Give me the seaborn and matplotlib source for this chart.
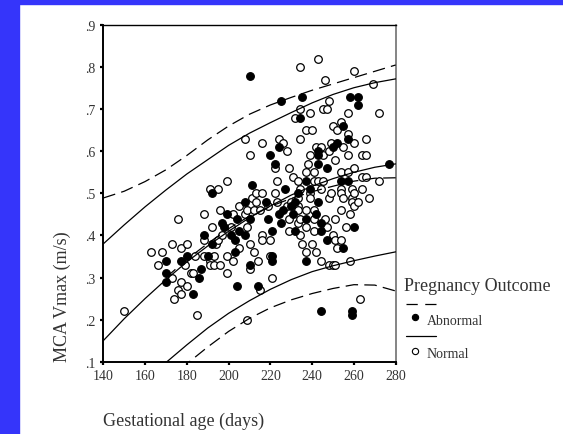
import numpy as np
import pandas as pd
import matplotlib
matplotlib.use("Agg")
import matplotlib.pyplot as plt
import seaborn as sns
from matplotlib.lines import Line2D
from matplotlib.patches import Rectangle

# points (gestational age in days, MCA Vmax in m/s)
abnormal_days = [170, 170, 170, 177, 180, 183, 186, 187, 188, 190,
                 192, 192, 197, 198, 199, 201, 203, 203, 204, 204,
                 205, 208, 208, 210, 210, 210, 211, 214, 218, 219,
                 220, 221, 221, 221, 222, 224, 224, 225, 225, 226,
                 227, 230, 231, 232, 232, 233, 234, 235, 237, 237,
                 237, 239, 242, 243, 243, 243, 243, 244, 244, 244,
                 247, 247, 250, 252, 254, 255, 255, 257, 257, 258,
                 259, 259, 260, 262, 262, 277]
abnormal_vmax = [0.34, 0.31, 0.29, 0.34, 0.35, 0.26, 0.30, 0.32, 0.40, 0.35,
                 0.38, 0.50, 0.43, 0.42, 0.45, 0.40, 0.39, 0.36, 0.28, 0.44,
                 0.41, 0.40, 0.48, 0.44, 0.33, 0.78, 0.52, 0.28, 0.48, 0.44,
                 0.59, 0.41, 0.35, 0.34, 0.57, 0.61, 0.45, 0.72, 0.43, 0.46,
                 0.51, 0.47, 0.45, 0.41, 0.48, 0.50, 0.68, 0.73, 0.53, 0.44,
                 0.34, 0.51, 0.45, 0.60, 0.59, 0.57, 0.48, 0.43, 0.41, 0.22,
                 0.56, 0.39, 0.61, 0.62, 0.53, 0.66, 0.37, 0.53, 0.63, 0.73,
                 0.22, 0.21, 0.42, 0.73, 0.71, 0.57]

normal_days = [150, 163, 166, 168, 173, 173, 174, 176, 176, 177,
               177, 177, 179, 180, 180, 182, 183, 184, 185, 188,
               188, 188, 191, 191, 191, 192, 193, 193, 194, 195,
               195, 196, 196, 197, 199, 199, 199, 201, 202, 202,
               205, 205, 208, 208, 209, 209, 209, 210, 210, 210,
               211, 212, 212, 213, 213, 214, 215, 215, 216, 216,
               216, 216, 219, 220, 220, 221, 222, 222, 223, 223,
               224, 226, 228, 228, 229, 229, 229, 230, 231, 232,
               233, 233, 233, 233, 233, 234, 234, 234, 234, 234,
               234, 235, 237, 237, 237, 237, 237, 238, 239, 239,
               239, 239, 240, 240, 241, 241, 241, 241, 241, 242,
               242, 243, 243, 244, 244, 244, 245, 245, 245, 246,
               246, 247, 247, 248, 248, 248, 248, 249, 249, 250,
               250, 250, 251, 251, 251, 251, 252, 252, 254, 254,
               254, 254, 254, 254, 255, 255, 256, 257, 257, 257,
               257, 258, 258, 259, 259, 259, 260, 260, 260, 260,
               260, 262, 263, 264, 264, 264, 266, 266, 266, 267,
               269, 272, 272]
normal_vmax = [0.22, 0.36, 0.33, 0.36, 0.38, 0.30, 0.25, 0.44, 0.27, 0.37,
               0.29, 0.26, 0.33, 0.38, 0.28, 0.31, 0.31, 0.35, 0.21, 0.45,
               0.39, 0.35, 0.51, 0.34, 0.33, 0.42, 0.35, 0.33, 0.38, 0.51,
               0.39, 0.46, 0.33, 0.40, 0.53, 0.35, 0.31, 0.42, 0.45, 0.34,
               0.47, 0.37, 0.63, 0.45, 0.46, 0.42, 0.20, 0.59, 0.38, 0.32,
               0.49, 0.46, 0.36, 0.50, 0.48, 0.34, 0.46, 0.27, 0.62, 0.50,
               0.40, 0.39, 0.47, 0.39, 0.35, 0.30, 0.56, 0.50, 0.53, 0.48,
               0.63, 0.62, 0.60, 0.47, 0.56, 0.44, 0.41, 0.48, 0.54, 0.68,
               0.53, 0.49, 0.47, 0.46, 0.43, 0.80, 0.70, 0.63, 0.51, 0.44,
               0.40, 0.38, 0.65, 0.55, 0.46, 0.42, 0.36, 0.57, 0.69, 0.59,
               0.50, 0.49, 0.65, 0.38, 0.55, 0.53, 0.46, 0.44, 0.41, 0.61,
               0.36, 0.82, 0.53, 0.61, 0.51, 0.34, 0.70, 0.59, 0.53, 0.77,
               0.44, 0.70, 0.42, 0.72, 0.60, 0.49, 0.33, 0.62, 0.50, 0.66,
               0.40, 0.33, 0.58, 0.44, 0.39, 0.33, 0.65, 0.37, 0.67, 0.55,
               0.51, 0.50, 0.46, 0.39, 0.61, 0.49, 0.42, 0.69, 0.64, 0.59,
               0.55, 0.45, 0.34, 0.51, 0.49, 0.48, 0.79, 0.62, 0.56, 0.50,
               0.47, 0.48, 0.25, 0.59, 0.54, 0.51, 0.63, 0.59, 0.54, 0.49,
               0.76, 0.69, 0.53]

# fitted curves and prediction limits, read every 10 days
curve_days = [140, 150, 160, 170, 180, 190, 200, 210, 220, 230, 240, 250, 260, 270, 280]
normal_fit = [0.150, 0.202, 0.250, 0.295, 0.337, 0.375, 0.410, 0.442, 0.470, 0.496, 0.517, 0.535, 0.550, 0.562, 0.570]
normal_upper = [0.380, 0.425, 0.468, 0.508, 0.546, 0.580, 0.614, 0.643, 0.668, 0.692, 0.715, 0.735, 0.751, 0.763, 0.772]
normal_lower = [np.nan, np.nan, 0.050, 0.098, 0.140, 0.180, 0.215, 0.245, 0.272, 0.295, 0.314, 0.328, 0.340, 0.351, 0.361]
abnormal_fit = [np.nan, np.nan, np.nan, 0.300, 0.343, 0.381, 0.416, 0.446, 0.469, 0.488, 0.504, 0.517, 0.529, 0.536, 0.537]
abnormal_upper = [0.489, 0.505, 0.528, 0.556, 0.590, 0.627, 0.660, 0.688, 0.710, 0.728, 0.745, 0.760, 0.775, 0.790, 0.805]
abnormal_lower = [np.nan, np.nan, np.nan, 0.055, 0.095, 0.135, 0.172, 0.203, 0.228, 0.247, 0.262, 0.274, 0.283, 0.282, 0.268]

x_ticks = [140, 160, 180, 200, 220, 240, 260, 280]
y_ticks = [0.1, 0.2, 0.3, 0.4, 0.5, 0.6, 0.7, 0.8, 0.9]
y_tick_labels = [".1", ".2", ".3", ".4", ".5", ".6", ".7", ".8", ".9"]

curves = pd.DataFrame({
    "day": curve_days,
    "normal_fit": normal_fit, "normal_upper": normal_upper, "normal_lower": normal_lower,
    "abnormal_fit": abnormal_fit, "abnormal_upper": abnormal_upper, "abnormal_lower": abnormal_lower,
})

sns.set_style("ticks")
plt.rcParams["font.family"] = ["Liberation Serif", "DejaVu Serif"]

W, H = 563, 435
fig = plt.figure(figsize=(W / 100, H / 100), dpi=100)
blue = "#3535fa"
fig.patches.append(Rectangle((0, 0), 19 / W, 1, transform=fig.transFigure, color=blue, zorder=0))
fig.patches.append(Rectangle((0, 1 - 5 / H), 1, 5 / H, transform=fig.transFigure, color=blue, zorder=0))

ax = fig.add_axes([103.3 / W, 1 - 362.7 / H, (395.7 - 103.3) / W, (362.7 - 26) / H])

# points
sns.scatterplot(x=normal_days, y=normal_vmax, ax=ax, marker="o", s=30,
                color="white", edgecolor="black", linewidth=0.9, legend=False, zorder=3)
sns.scatterplot(x=abnormal_days, y=abnormal_vmax, ax=ax, marker="o", s=30,
                color="black", edgecolor="black", linewidth=0.9, legend=False, zorder=3)

# lines: solid for normal, dashed for abnormal
dash = (0, (10, 5))
for col in ["normal_fit", "normal_upper", "normal_lower", "abnormal_fit", "abnormal_upper", "abnormal_lower"]:
    d = curves[["day", col]].dropna()
    ls = dash if col.startswith("abnormal") else "-"
    sns.lineplot(x=d["day"], y=d[col], ax=ax, color="black", lw=0.9, linestyle=ls, zorder=4)

ax.set_xlim(140, 280)
ax.set_ylim(0.1, 0.9)
ax.set_xticks(x_ticks)
ax.set_yticks(y_ticks)
ax.set_yticklabels(y_tick_labels)
ax.set_xlabel("")
ax.set_ylabel("")
ax.tick_params(axis="both", direction="out", length=2.5, width=1.6, pad=3,
               labelsize=10, labelcolor="#333333", color="black")

for side in ["left", "bottom"]:
    ax.spines[side].set_linewidth(1.4)
    ax.spines[side].set_color("black")
ax.spines["top"].set_linewidth(1.0)
ax.spines["top"].set_color("black")
ax.spines["right"].set_linewidth(1.2)
ax.spines["right"].set_color("#707070")

txt = "#333333"
fig.text(62 / W, 1 - 297 / H, "MCA Vmax (m/s)", rotation=90, ha="center", va="center",
         fontsize=13, color=txt)
fig.text(103 / W, 1 - 421 / H, "Gestational age (days)", ha="left", va="center",
         fontsize=13, color=txt)

# legend, drawn by hand
fig.text(404 / W, 1 - 287 / H, "Pregnancy Outcome", ha="left", va="center", fontsize=13, color=txt)
fig.add_artist(Line2D([406 / W, 436 / W], [1 - 305 / H] * 2, color="black", lw=0.9,
                      linestyle=(0, (9, 6)), transform=fig.transFigure))
fig.add_artist(Line2D([415 / W], [1 - 318 / H], marker="o", ms=4.5, color="black",
                      markeredgewidth=0.8, transform=fig.transFigure))
fig.text(427 / W, 1 - 322 / H, "Abnormal", ha="left", va="center", fontsize=10, color=txt)
fig.add_artist(Line2D([406 / W, 436 / W], [1 - 337 / H] * 2, color="black", lw=0.9,
                      transform=fig.transFigure))
fig.add_artist(Line2D([415 / W], [1 - 352 / H], marker="o", ms=4.5, color="black",
                      markerfacecolor="white", markeredgewidth=0.8, transform=fig.transFigure))
fig.text(427 / W, 1 - 355 / H, "Normal", ha="left", va="center", fontsize=10, color=txt)

fig.savefig("out.png", dpi=100)
